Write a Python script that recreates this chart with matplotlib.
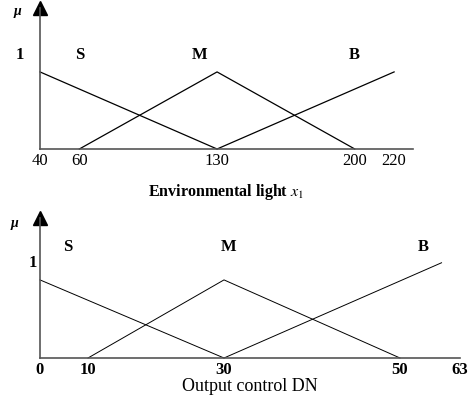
import matplotlib
matplotlib.use('Agg')
import matplotlib.pyplot as plt
import numpy as np

plt.rcParams['font.family'] = ['Liberation Serif', 'DejaVu Serif']
plt.rcParams['mathtext.fontset'] = 'stix'

# top panel: environmental light x1 (linear axis)
light_ticks = [40, 60, 130, 200, 220]
light_S = ([40, 130], [0.82, 0.0])
light_M = ([60, 130, 200], [0.0, 0.82, 0.0])
light_B = ([130, 220], [0.0, 0.82])

# bottom panel: output control DN (schematic, non-linear axis)
dn_ticks = [0, 10, 30, 50, 63]
dn_S = ([0, 30], [0.82, 0.0])
dn_M = ([10, 30, 50], [0.0, 0.82, 0.0])
dn_B = ([30, 59], [0.0, 1.0])

labels = ['S', 'M', 'B']
light_label_x = [60, 121, 200]
dn_label_x = [5.8, 30.5, 55]

W, H = 471, 401
fig = plt.figure(figsize=(W / 100, H / 100), dpi=100)


def px_axes(x0, x1, y0, y1):
    """axes from pixel box (y measured from top)"""
    return fig.add_axes([x0 / W, (H - y0) / H, (x1 - x0) / W, (y0 - y1) / H])


def style(ax):
    for s in ['top', 'right']:
        ax.spines[s].set_visible(False)
    for s in ['left', 'bottom']:
        ax.spines[s].set_color('#555555')
        ax.spines[s].set_linewidth(1.2)
    ax.tick_params(length=0, pad=3)
    ax.set_yticks([])


# ---- top ----
ax1 = px_axes(40, 413, 149, 8)
ax1.set_xlim(40, 229.6)
ax1.set_ylim(0, 1.5)
style(ax1)
for xs, ys in [light_S, light_M, light_B]:
    ax1.plot(xs, ys, color='black', lw=0.9, clip_on=False)
ax1.plot([40], [1.5], marker='^', color='black', ms=10, clip_on=False)
ax1.set_xticks(light_ticks)
ax1.set_xticklabels([str(t) for t in light_ticks], fontsize=12)
ax1.text(-0.055, 1.0, '1', transform=ax1.get_yaxis_transform(),
         ha='center', va='center', fontsize=12, fontweight='bold')
ax1.text(-0.06, 1.46, 'μ', transform=ax1.get_yaxis_transform(),
         ha='center', va='center', fontsize=10, fontweight='bold', style='italic')
for lab, x in zip(labels, light_label_x):
    ax1.text(x, 1.0, lab, ha='center', va='center', fontsize=12, fontweight='bold')
ax1.set_xlabel(r'Environmental light $\mathbf{\mathit{x}}_1$', fontsize=11.5,
               fontweight='bold', labelpad=9)

# ---- bottom ----
dn_px = [40, 88, 224, 400, 460]


def fwd(x):
    return np.interp(x, dn_ticks, dn_px)


def inv(p):
    return np.interp(p, dn_px, dn_ticks)


ax2 = px_axes(40, 460, 358, 218)
ax2.set_xscale('function', functions=(fwd, inv))
ax2.set_xlim(0, 63)
ax2.set_ylim(0, 1.47)
style(ax2)
for xs, ys in [dn_S, dn_M, dn_B]:
    ax2.plot(xs, ys, color='black', lw=0.7, clip_on=False)
ax2.plot([0], [1.47], marker='^', color='black', ms=10, clip_on=False)
ax2.set_xticks(dn_ticks)
ax2.set_xticklabels([str(t) for t in dn_ticks], fontsize=12, fontweight='bold')
ax2.xaxis.set_minor_locator(matplotlib.ticker.NullLocator())
ax2.text(-0.017, 1.0, '1', transform=ax2.get_yaxis_transform(),
         ha='center', va='center', fontsize=12, fontweight='bold')
ax2.text(-0.06, 1.41, 'μ', transform=ax2.get_yaxis_transform(),
         ha='center', va='center', fontsize=10, fontweight='bold', style='italic')
for lab, x in zip(labels, dn_label_x):
    ax2.text(x, 1.17, lab, ha='center', va='center', fontsize=12, fontweight='bold')
ax2.set_xlabel('Output control DN', fontsize=13, labelpad=0)

fig.savefig('out.png', dpi=100)
